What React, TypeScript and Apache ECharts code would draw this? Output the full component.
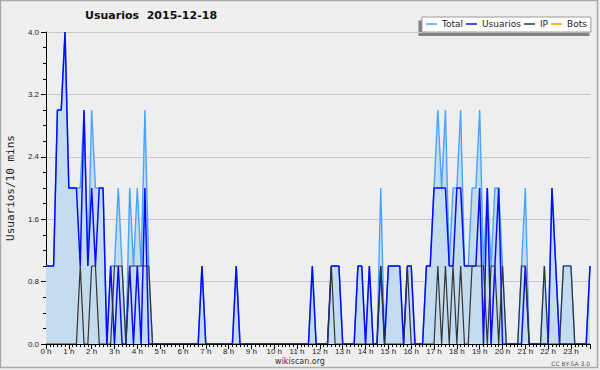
import React, { useEffect, useRef } from "react";
import * as echarts from "echarts";

const hourLabels = [
  "0 h", "1 h", "2 h", "3 h", "4 h", "5 h", "6 h", "7 h", "8 h", "9 h", "10 h", "11 h",
  "12 h", "13 h", "14 h", "15 h", "16 h", "17 h", "18 h", "19 h", "20 h", "21 h", "22 h", "23 h",
];

// one value per 10 minutes (144 slots)
const total = [
  1, 1, 1, 3, 3, 4, 2, 2, 2, 2, 3, 1,
  3, 2, 2, 2, 0, 1, 1, 2, 1, 0, 2, 1,
  2, 1, 3, 1, 0, 0, 0, 0, 0, 0, 0, 0,
  0, 0, 0, 0, 0, 1, 0, 0, 0, 0, 0, 0,
  0, 0, 1, 0, 0, 0, 0, 0, 0, 0, 0, 0,
  0, 0, 0, 0, 0, 0, 0, 0, 0, 0, 1, 0,
  0, 0, 0, 1, 1, 1, 0, 0, 0, 0, 1, 1,
  0, 1, 0, 0, 2, 0, 1, 1, 1, 1, 0, 1,
  1, 0, 0, 0, 1, 1, 2, 3, 2, 3, 1, 2,
  2, 3, 1, 1, 2, 2, 3, 1, 2, 1, 2, 2,
  1, 0, 0, 0, 0, 1, 2, 0, 0, 0, 0, 1,
  0, 2, 1, 0, 1, 1, 1, 0, 0, 0, 0, 1,
];

const usuarios = [
  1, 1, 1, 3, 3, 4, 2, 2, 2, 1, 3, 1,
  2, 1, 2, 2, 0, 1, 0, 1, 0, 0, 1, 0,
  1, 0, 2, 0, 0, 0, 0, 0, 0, 0, 0, 0,
  0, 0, 0, 0, 0, 1, 0, 0, 0, 0, 0, 0,
  0, 0, 1, 0, 0, 0, 0, 0, 0, 0, 0, 0,
  0, 0, 0, 0, 0, 0, 0, 0, 0, 0, 1, 0,
  0, 0, 0, 1, 1, 1, 0, 0, 0, 0, 1, 1,
  0, 1, 0, 0, 1, 0, 1, 1, 1, 1, 0, 1,
  1, 0, 0, 0, 1, 1, 2, 2, 2, 2, 1, 1,
  2, 2, 1, 1, 1, 1, 2, 0, 2, 0, 1, 2,
  0, 0, 0, 0, 0, 0, 1, 0, 0, 0, 0, 0,
  0, 2, 1, 0, 0, 0, 0, 0, 0, 0, 0, 1,
];

const ip = [
  0, 0, 0, 0, 0, 0, 0, 0, 0, 1, 0, 0,
  1, 1, 0, 0, 0, 0, 1, 1, 1, 0, 1, 1,
  1, 1, 1, 1, 0, 0, 0, 0, 0, 0, 0, 0,
  0, 0, 0, 0, 0, 0, 0, 0, 0, 0, 0, 0,
  0, 0, 0, 0, 0, 0, 0, 0, 0, 0, 0, 0,
  0, 0, 0, 0, 0, 0, 0, 0, 0, 0, 0, 0,
  0, 0, 0, 1, 0, 0, 0, 0, 0, 0, 0, 0,
  0, 0, 0, 0, 1, 0, 0, 0, 0, 0, 0, 1,
  0, 0, 0, 0, 0, 0, 0, 1, 0, 1, 0, 1,
  0, 1, 0, 0, 1, 1, 1, 1, 0, 1, 1, 0,
  1, 0, 0, 0, 0, 1, 1, 0, 0, 0, 0, 1,
  0, 0, 0, 0, 1, 1, 1, 0, 0, 0, 0, 0,
];

const bots = [
  0, 0, 0, 0, 0, 0, 0, 0, 0, 0, 0, 0,
  0, 0, 0, 0, 0, 0, 0, 0, 0, 0, 0, 0,
  0, 0, 0, 0, 0, 0, 0, 0, 0, 0, 0, 0,
  0, 0, 0, 0, 0, 0, 0, 0, 0, 0, 0, 0,
  0, 0, 0, 0, 0, 0, 0, 0, 0, 0, 0, 0,
  0, 0, 0, 0, 0, 0, 0, 0, 0, 0, 0, 0,
  0, 0, 0, 0, 0, 0, 0, 0, 0, 0, 0, 0,
  0, 0, 0, 0, 0, 0, 0, 0, 0, 0, 0, 0,
  0, 0, 0, 0, 0, 0, 0, 0, 0, 0, 0, 0,
  0, 0, 0, 0, 0, 0, 0, 0, 0, 0, 0, 0,
  0, 0, 0, 0, 0, 0, 0, 0, 0, 0, 0, 0,
  0, 0, 0, 0, 0, 0, 0, 0, 0, 0, 0, 0,
];

const seriesNames = ["Total", "Usuarios", "IP", "Bots"];
const chartTitle = "Usuarios  2015-12-18";
const yName = "Usuarios/10 mins";

const toPairs = (arr: number[]) => arr.map((v, i) => [i, v]);

export default function App() {
  const ref = useRef<HTMLDivElement>(null);
  useEffect(() => {
    if (!ref.current) return;
    const chart = echarts.init(ref.current, null, { renderer: "svg" });
    const tickFont = "Liberation Sans";
    const option: any = {
      animation: false,
      backgroundColor: "#efefef",
      title: {
        text: chartTitle,
        left: 85,
        top: 10,
        padding: 0,
        textStyle: {
          fontFamily: "DejaVu Sans",
          fontWeight: "bold",
          fontSize: 11,
          color: "#111",
        },
      },
      legend: {
        data: seriesNames,
        left: 422,
        top: 17,
        padding: [2, 4, 3, 4],
        itemGap: 3,
        itemWidth: 11,
        itemHeight: 1.5,
        icon: "rect",
        backgroundColor: "#ffffff",
        borderColor: "#999999",
        borderWidth: 1,
        borderRadius: 0,
        selectedMode: false,
        textStyle: {
          fontFamily: "DejaVu Sans",
          fontSize: 9,
          color: "#222",
          lineHeight: 10,
          padding: [0, 0, 0, 0],
        },
      },
      grid: {
        left: 46,
        right: 10,
        top: 32,
        bottom: 26,
        show: true,
        backgroundColor: "#edeef0",
        borderWidth: 0,
        containLabel: false,
        outerBoundsMode: "none",
      },
      xAxis: {
        type: "value",
        min: 0,
        max: 143,
        interval: 6,
        z: 10,
        axisLine: { show: true, onZero: false, lineStyle: { color: "#000", width: 1 } },
        axisTick: { show: true, length: 5, lineStyle: { color: "#000", width: 1 } },
        minorTick: { show: true, splitNumber: 6, length: 3, lineStyle: { color: "#000", width: 1 } },
        splitLine: { show: false },
        minorSplitLine: { show: false },
        axisLabel: {
          margin: 3,
          fontSize: 8,
          fontFamily: tickFont,
          color: "#222",
          formatter: (v: number) => (v % 6 === 0 && hourLabels[v / 6] ? hourLabels[v / 6] : ""),
        },
      },
      yAxis: {
        type: "value",
        min: 0,
        max: 4,
        interval: 0.8,
        name: yName,
        nameLocation: "middle",
        nameRotate: 90,
        nameGap: 30,
        nameTextStyle: { fontFamily: "DejaVu Sans Mono", fontSize: 11, color: "#222" },
        axisLine: { show: true, lineStyle: { color: "#000", width: 1 } },
        axisTick: { show: true, length: 5, lineStyle: { color: "#000", width: 1 } },
        minorTick: { show: true, splitNumber: 4, length: 3, lineStyle: { color: "#000", width: 1 } },
        splitLine: { show: true, lineStyle: { color: "#c8c8c8", width: 1 } },
        minorSplitLine: { show: false },
        axisLabel: {
          margin: 7,
          fontSize: 8,
          fontFamily: tickFont,
          color: "#222",
          formatter: (v: number) => v.toFixed(1),
        },
      },
      series: [
        {
          name: "Total",
          type: "line",
          data: toPairs(total),
          color: "#4aa3ff",
          showSymbol: false,
          symbol: "none",
          lineStyle: { width: 1.4, color: "#4aa3ff" },
          areaStyle: { color: "#c4dcf0", opacity: 1 },
          z: 2,
        },
        {
          name: "Usuarios",
          type: "line",
          data: toPairs(usuarios),
          color: "#1010ff",
          showSymbol: false,
          symbol: "none",
          lineStyle: { width: 1.5, color: "#0a0aff" },
          z: 3,
        },
        {
          name: "IP",
          type: "line",
          data: toPairs(ip),
          color: "#333333",
          showSymbol: false,
          symbol: "none",
          lineStyle: { width: 1.2, color: "#333333" },
          z: 4,
        },
        {
          name: "Bots",
          type: "line",
          data: toPairs(bots),
          color: "#ff9900",
          showSymbol: false,
          symbol: "none",
          lineStyle: { width: 1, color: "#ff9900" },
          z: 1,
        },
      ],
      graphic: [
        {
          type: "rect",
          shape: { x: 0.5, y: 0.5, width: 597, height: 367 },
          style: { fill: "none", stroke: "#aaaaaa", lineWidth: 1.5 },
          silent: true,
        },
        {
          type: "rect",
          shape: { x: 418.5, y: 20.5, width: 171, height: 15.5 },
          style: { fill: "#808080" },
          silent: true,
        },
        {
          type: "text",
          x: 300,
          y: 361.5,
          style: {
            text: "wikiscan.org",
            fontFamily: "DejaVu Sans",
            fontSize: 8,
            fill: "#333",
            align: "center",
            verticalAlign: "middle",
          },
          silent: true,
        },
        {
          type: "text",
          x: 590,
          y: 363,
          style: {
            text: "CC BY-SA 3.0",
            fontFamily: "DejaVu Sans",
            fontSize: 6,
            fill: "#555",
            align: "right",
            verticalAlign: "middle",
          },
          silent: true,
        },
      ],
    };
    chart.setOption(option);
    return () => chart.dispose();
  }, []);
  return (
    <div
      ref={ref}
      style={{ position: "absolute", left: 0, top: 0, width: 600, height: 370 }}
    />
  );
}
